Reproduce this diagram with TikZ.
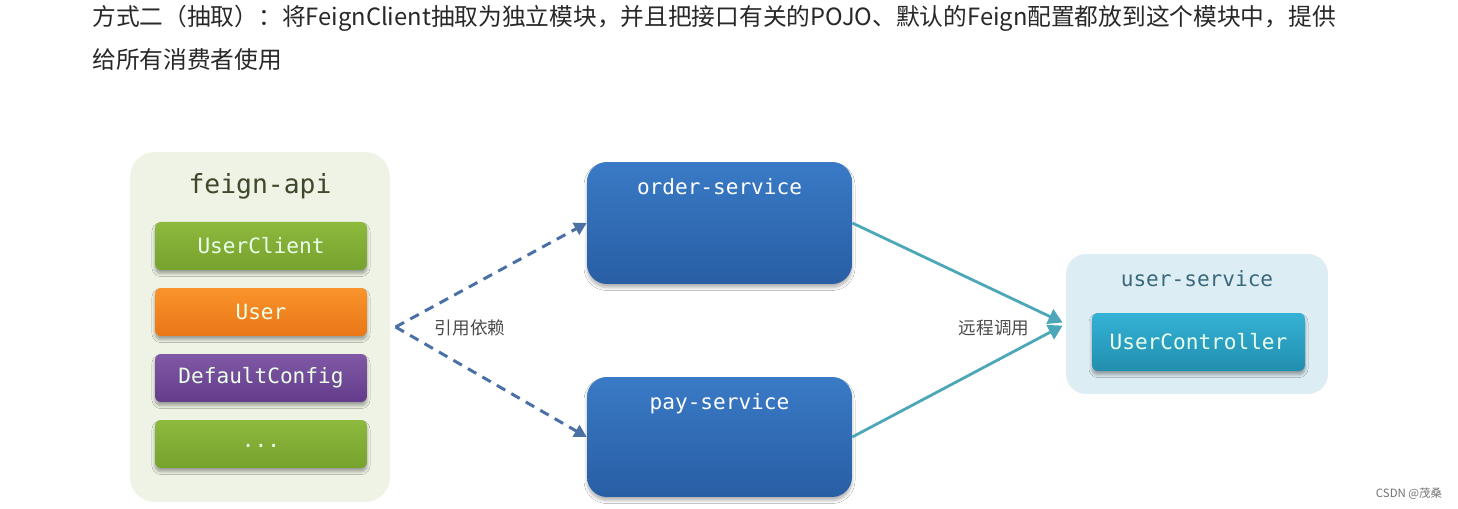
\documentclass[tikz,border=0pt]{standalone}
\usepackage{fontspec}
\setmonofont{DejaVu Sans Mono}
\newfontfamily\cjk{Noto Sans CJK SC}
\usetikzlibrary{arrows.meta, positioning, shadows.blur}
\definecolor{apibg}{RGB}{238, 243, 229}
\definecolor{apititle}{RGB}{62, 72, 42}
\definecolor{leafgreen}{RGB}{141, 185, 62}
\definecolor{leafdark}{RGB}{118, 162, 46}
\definecolor{pojoorange}{RGB}{249, 148, 44}
\definecolor{pojodark}{RGB}{234, 118, 22}
\definecolor{cfgpurple}{RGB}{128, 88, 166}
\definecolor{cfgdark}{RGB}{98, 60, 138}
\definecolor{svcblue}{RGB}{58, 122, 198}
\definecolor{svcdark}{RGB}{40, 94, 164}
\definecolor{userbg}{RGB}{221, 237, 244}
\definecolor{usertitle}{RGB}{58, 104, 124}
\definecolor{ctrlteal}{RGB}{52, 178, 214}
\definecolor{ctrldark}{RGB}{34, 142, 174}
\definecolor{depline}{RGB}{74, 112, 166}
\definecolor{callline}{RGB}{76, 168, 184}
\definecolor{headtext}{RGB}{40, 40, 40}

\tikzset{
  module/.style={rounded corners=0.5cm, minimum width=5.2cm, minimum height=7cm, fill=apibg},
  item/.style={rounded corners=0.12cm, minimum width=4.24cm, minimum height=0.96cm,
    text=white!92!green, font=\ttfamily\fontsize{12}{14}\selectfont,
    blur shadow={shadow xshift=0pt, shadow yshift=-2pt, shadow blur steps=6, shadow opacity=35}},
  svcbox/.style={rounded corners=0.4cm, minimum width=5.3cm, minimum height=2.44cm,
    top color=svcblue, bottom color=svcdark,
    blur shadow={shadow xshift=0pt, shadow yshift=-2pt, shadow blur steps=6, shadow opacity=30}},
  svctitle/.style={text=white, font=\ttfamily\fontsize{12}{14}\selectfont},
  deparrow/.style={-{Triangle[length=7pt, width=7.5pt]}, depline, line width=1.7pt, dash pattern=on 5.5pt off 4pt},
  callarrow/.style={-{Triangle[length=8pt, width=9pt]}, callline, line width=1.6pt},
  edgelabel/.style={text=black!70, font=\cjk\fontsize{10}{12}\selectfont}
}

\begin{document}
\begin{tikzpicture}[x=0.02cm, y=-0.02cm]
\useasboundingbox[fill=white] (0,0) rectangle (1458,509);

% Heading
\node[anchor=west, inner sep=0pt, text=headtext, font=\cjk\fontsize{13.5}{16}\selectfont] (head1) at (92,18)
  {方式二（抽取）：将FeignClient抽取为独立模块，并且把接口有关的POJO、默认的Feign配置都放到这个模块中，提供};
\node[anchor=west, inner sep=0pt, text=headtext, font=\cjk\fontsize{13.5}{16}\selectfont] (head2) at (92,60)
  {给所有消费者使用};

% feign-api module
\node[module] (api) at (260,327) {};
\node[text=apititle, font=\ttfamily\fontsize{15}{18}\selectfont] (apiname) at (260,186) {feign-api};
\node[item, top color=leafgreen, bottom color=leafdark] (client) at (261,246) {UserClient};
\node[item, top color=pojoorange, bottom color=pojodark] (pojo) at (261,312) {User};
\node[item, top color=cfgpurple, bottom color=cfgdark] (config) at (261,378) {DefaultConfig};
\node[item, top color=leafgreen, bottom color=leafdark] (more) at (261,444) {\raisebox{-3.5pt}{...}};

% Consumers
\node[svcbox] (order) at (719.5,223) {};
\node[svctitle, below=0.22cm of order.north] (ordername) {order-service};
\node[svcbox, minimum height=2.4cm] (pay) at (719.5,437) {};
\node[svctitle, below=0.22cm of pay.north] (payname) {pay-service};

% Provider
\node[rounded corners=0.4cm, minimum width=5.24cm, minimum height=2.8cm, fill=userbg] (usersvc) at (1197,324) {};
\node[text=usertitle, font=\ttfamily\fontsize{12}{14}\selectfont] (username) at (1197,279) {user-service};
\node[item, minimum width=4.26cm, minimum height=1.16cm, top color=ctrlteal, bottom color=ctrldark] (ctrl) at (1198.5,342) {UserController};

% Dependencies
\coordinate (apex) at ([xshift=3pt]api.east);
\draw[deparrow] (apex) -- (order.west);
\draw[deparrow] (apex) -- (pay.west);
\node[edgelabel] (deplabel) at (470,328) {引用依赖};

% Remote calls
\draw[callarrow, shorten >=2pt] (order.east) -- (usersvc.west);
\draw[callarrow, shorten >=2pt] (pay.east) -- (usersvc.west);
\node[edgelabel] (calllabel) at (994,328) {远程调用};

% Watermark
\node[text=black!55, font=\cjk\fontsize{6.5}{8}\selectfont] (mark) at (1409,494) {CSDN @茂桑};
\end{tikzpicture}
\end{document}
